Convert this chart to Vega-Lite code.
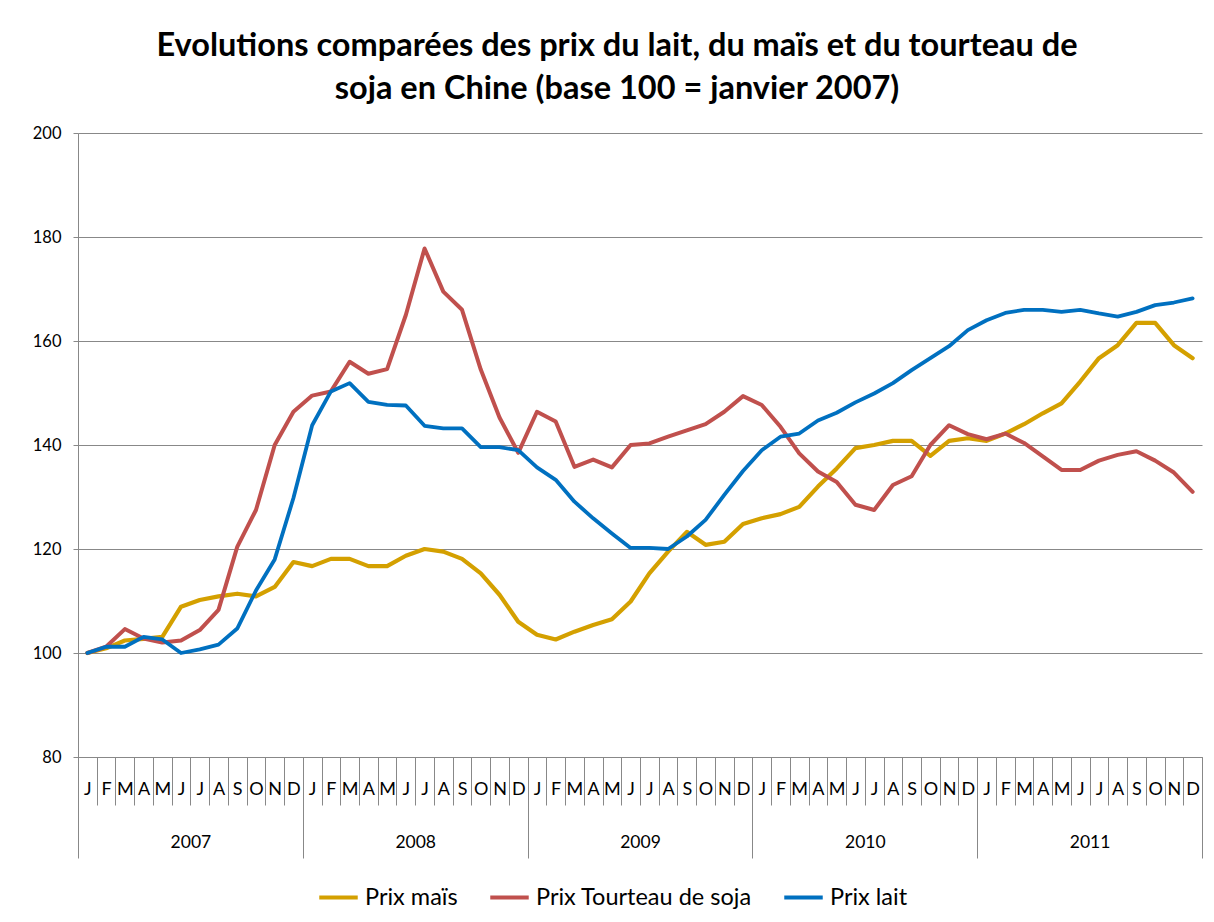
{
  "$schema": "https://vega.github.io/schema/vega-lite/v6.json",
  "width": 1124,
  "height": 624,
  "autosize": "none",
  "padding": {"left": 78, "top": 133, "right": 12, "bottom": 165},
  "background": "white",
  "title": {
    "text": ["Evolutions comparées des prix du lait, du maïs et du tourteau de", "soja en Chine (base 100 = janvier 2007)"],
    "font": "Lato",
    "fontSize": 32.5,
    "fontWeight": "bold",
    "color": "black",
    "lineHeight": 43,
    "anchor": "middle",
    "dx": -23,
    "offset": 20
  },
  "data": {
    "values": [
      {"i": 0, "an": 2007, "Prix maïs": 100, "Prix Tourteau de soja": 100, "Prix lait": 100},
      {"i": 1, "an": 2007, "Prix maïs": 100.9, "Prix Tourteau de soja": 101.2, "Prix lait": 101.2},
      {"i": 2, "an": 2007, "Prix maïs": 102.4, "Prix Tourteau de soja": 104.6, "Prix lait": 101.2},
      {"i": 3, "an": 2007, "Prix maïs": 102.7, "Prix Tourteau de soja": 102.8, "Prix lait": 103.1},
      {"i": 4, "an": 2007, "Prix maïs": 103.1, "Prix Tourteau de soja": 102.0, "Prix lait": 102.6},
      {"i": 5, "an": 2007, "Prix maïs": 108.9, "Prix Tourteau de soja": 102.4, "Prix lait": 100.0},
      {"i": 6, "an": 2007, "Prix maïs": 110.2, "Prix Tourteau de soja": 104.4, "Prix lait": 100.7},
      {"i": 7, "an": 2007, "Prix maïs": 110.9, "Prix Tourteau de soja": 108.3, "Prix lait": 101.6},
      {"i": 8, "an": 2007, "Prix maïs": 111.4, "Prix Tourteau de soja": 120.4, "Prix lait": 104.7},
      {"i": 9, "an": 2007, "Prix maïs": 110.9, "Prix Tourteau de soja": 127.5, "Prix lait": 112.0},
      {"i": 10, "an": 2007, "Prix maïs": 112.7, "Prix Tourteau de soja": 140.0, "Prix lait": 118.0},
      {"i": 11, "an": 2007, "Prix maïs": 117.5, "Prix Tourteau de soja": 146.4, "Prix lait": 129.8},
      {"i": 12, "an": 2008, "Prix maïs": 116.7, "Prix Tourteau de soja": 149.5, "Prix lait": 143.8},
      {"i": 13, "an": 2008, "Prix maïs": 118.1, "Prix Tourteau de soja": 150.3, "Prix lait": 150.3},
      {"i": 14, "an": 2008, "Prix maïs": 118.1, "Prix Tourteau de soja": 156.0, "Prix lait": 151.9},
      {"i": 15, "an": 2008, "Prix maïs": 116.7, "Prix Tourteau de soja": 153.7, "Prix lait": 148.3},
      {"i": 16, "an": 2008, "Prix maïs": 116.7, "Prix Tourteau de soja": 154.6, "Prix lait": 147.7},
      {"i": 17, "an": 2008, "Prix maïs": 118.7, "Prix Tourteau de soja": 165.0, "Prix lait": 147.6},
      {"i": 18, "an": 2008, "Prix maïs": 120.0, "Prix Tourteau de soja": 177.8, "Prix lait": 143.7},
      {"i": 19, "an": 2008, "Prix maïs": 119.5, "Prix Tourteau de soja": 169.5, "Prix lait": 143.2},
      {"i": 20, "an": 2008, "Prix maïs": 118.1, "Prix Tourteau de soja": 166.0, "Prix lait": 143.2},
      {"i": 21, "an": 2008, "Prix maïs": 115.3, "Prix Tourteau de soja": 154.5, "Prix lait": 139.6},
      {"i": 22, "an": 2008, "Prix maïs": 111.2, "Prix Tourteau de soja": 145.3, "Prix lait": 139.6},
      {"i": 23, "an": 2008, "Prix maïs": 106.0, "Prix Tourteau de soja": 138.5, "Prix lait": 139.0},
      {"i": 24, "an": 2009, "Prix maïs": 103.5, "Prix Tourteau de soja": 146.4, "Prix lait": 135.7},
      {"i": 25, "an": 2009, "Prix maïs": 102.6, "Prix Tourteau de soja": 144.5, "Prix lait": 133.3},
      {"i": 26, "an": 2009, "Prix maïs": 104.1, "Prix Tourteau de soja": 135.8, "Prix lait": 129.1},
      {"i": 27, "an": 2009, "Prix maïs": 105.4, "Prix Tourteau de soja": 137.2, "Prix lait": 125.9},
      {"i": 28, "an": 2009, "Prix maïs": 106.5, "Prix Tourteau de soja": 135.7, "Prix lait": 123.0},
      {"i": 29, "an": 2009, "Prix maïs": 109.9, "Prix Tourteau de soja": 140.0, "Prix lait": 120.2},
      {"i": 30, "an": 2009, "Prix maïs": 115.3, "Prix Tourteau de soja": 140.3, "Prix lait": 120.2},
      {"i": 31, "an": 2009, "Prix maïs": 119.5, "Prix Tourteau de soja": 141.6, "Prix lait": 120.0},
      {"i": 32, "an": 2009, "Prix maïs": 123.3, "Prix Tourteau de soja": 142.8, "Prix lait": 122.4},
      {"i": 33, "an": 2009, "Prix maïs": 120.8, "Prix Tourteau de soja": 144.0, "Prix lait": 125.6},
      {"i": 34, "an": 2009, "Prix maïs": 121.4, "Prix Tourteau de soja": 146.4, "Prix lait": 130.4},
      {"i": 35, "an": 2009, "Prix maïs": 124.8, "Prix Tourteau de soja": 149.4, "Prix lait": 135.0},
      {"i": 36, "an": 2010, "Prix maïs": 125.9, "Prix Tourteau de soja": 147.7, "Prix lait": 139.0},
      {"i": 37, "an": 2010, "Prix maïs": 126.7, "Prix Tourteau de soja": 143.5, "Prix lait": 141.6},
      {"i": 38, "an": 2010, "Prix maïs": 128.1, "Prix Tourteau de soja": 138.4, "Prix lait": 142.2},
      {"i": 39, "an": 2010, "Prix maïs": 132.0, "Prix Tourteau de soja": 134.9, "Prix lait": 144.7},
      {"i": 40, "an": 2010, "Prix maïs": 135.5, "Prix Tourteau de soja": 132.9, "Prix lait": 146.2},
      {"i": 41, "an": 2010, "Prix maïs": 139.4, "Prix Tourteau de soja": 128.5, "Prix lait": 148.2},
      {"i": 42, "an": 2010, "Prix maïs": 140.0, "Prix Tourteau de soja": 127.5, "Prix lait": 149.9},
      {"i": 43, "an": 2010, "Prix maïs": 140.8, "Prix Tourteau de soja": 132.3, "Prix lait": 151.9},
      {"i": 44, "an": 2010, "Prix maïs": 140.8, "Prix Tourteau de soja": 134.0, "Prix lait": 154.4},
      {"i": 45, "an": 2010, "Prix maïs": 137.9, "Prix Tourteau de soja": 140.0, "Prix lait": 156.7},
      {"i": 46, "an": 2010, "Prix maïs": 140.8, "Prix Tourteau de soja": 143.8, "Prix lait": 159.0},
      {"i": 47, "an": 2010, "Prix maïs": 141.3, "Prix Tourteau de soja": 142.1, "Prix lait": 162.1},
      {"i": 48, "an": 2011, "Prix maïs": 140.8, "Prix Tourteau de soja": 141.1, "Prix lait": 164.0},
      {"i": 49, "an": 2011, "Prix maïs": 142.2, "Prix Tourteau de soja": 142.2, "Prix lait": 165.4},
      {"i": 50, "an": 2011, "Prix maïs": 144.0, "Prix Tourteau de soja": 140.4, "Prix lait": 166.0},
      {"i": 51, "an": 2011, "Prix maïs": 146.1, "Prix Tourteau de soja": 137.8, "Prix lait": 166.0},
      {"i": 52, "an": 2011, "Prix maïs": 148.0, "Prix Tourteau de soja": 135.2, "Prix lait": 165.6},
      {"i": 53, "an": 2011, "Prix maïs": 152.2, "Prix Tourteau de soja": 135.2, "Prix lait": 166.0},
      {"i": 54, "an": 2011, "Prix maïs": 156.7, "Prix Tourteau de soja": 137.0, "Prix lait": 165.3},
      {"i": 55, "an": 2011, "Prix maïs": 159.2, "Prix Tourteau de soja": 138.1, "Prix lait": 164.7},
      {"i": 56, "an": 2011, "Prix maïs": 163.5, "Prix Tourteau de soja": 138.8, "Prix lait": 165.6},
      {"i": 57, "an": 2011, "Prix maïs": 163.5, "Prix Tourteau de soja": 137.0, "Prix lait": 166.9},
      {"i": 58, "an": 2011, "Prix maïs": 159.2, "Prix Tourteau de soja": 134.7, "Prix lait": 167.4},
      {"i": 59, "an": 2011, "Prix maïs": 156.7, "Prix Tourteau de soja": 131.0, "Prix lait": 168.2}
    ]
  },
  "transform": [
    {"fold": ["Prix maïs", "Prix Tourteau de soja", "Prix lait"], "as": ["serie", "valeur"]}
  ],
  "layer": [
    {
      "mark": {"type": "line", "strokeJoin": "round", "strokeCap": "round"},
      "encoding": {
        "x": {
          "field": "i",
          "type": "ordinal",
          "scale": {"type": "band", "paddingInner": 0, "paddingOuter": 0},
          "axis": {
            "title": null,
            "labelExpr": "substring('JFMAMJJASOND', datum.value % 12, datum.value % 12 + 1)",
            "tickBand": "extent",
            "tickSize": 48,
            "tickColor": "#888888",
            "domainColor": "#888888",
            "labelAngle": 0,
            "labelPadding": -25,
            "labelFont": "Lato",
            "labelFontSize": 18,
            "labelColor": "black",
            "labelOverlap": false,
            "labelFlush": false,
            "grid": false
          }
        },
        "y": {
          "field": "valeur",
          "type": "quantitative",
          "scale": {"domain": [80, 200], "nice": false, "zero": false},
          "axis": {
            "title": null,
            "values": [80, 100, 120, 140, 160, 180, 200],
            "grid": true,
            "gridColor": "#888888",
            "domainColor": "#888888",
            "tickColor": "#888888",
            "tickSize": 5,
            "labelFont": "Lato",
            "labelFontSize": 16.5,
            "labelColor": "black",
            "labelPadding": 12
          }
        },
        "color": {
          "field": "serie",
          "type": "nominal",
          "scale": {
            "domain": ["Prix maïs", "Prix Tourteau de soja", "Prix lait"],
            "range": ["#D4A000", "#C0504D", "#0070C0"]
          },
          "legend": {
            "title": null,
            "orient": "none",
            "direction": "horizontal",
            "legendX": 239,
            "legendY": 743,
            "symbolType": "stroke",
            "symbolSize": 1480,
            "symbolStrokeWidth": 4,
            "labelFont": "Lato",
            "labelFontSize": 23.5,
            "labelColor": "black",
            "labelOffset": 5,
            "labelLimit": 400,
            "columnPadding": 24
          }
        },
        "strokeWidth": {
          "field": "serie",
          "type": "nominal",
          "scale": {
            "domain": ["Prix maïs", "Prix Tourteau de soja", "Prix lait"],
            "range": [4.2, 3.8, 6]
          },
          "legend": null
        }
      }
    },
    {
      "mark": {"type": "point", "opacity": 0},
      "encoding": {
        "x": {
          "field": "an",
          "type": "ordinal",
          "scale": {"type": "band", "paddingInner": 0, "paddingOuter": 0},
          "axis": {
            "orient": "bottom",
            "title": null,
            "tickBand": "extent",
            "tickSize": 101,
            "tickColor": "#888888",
            "domain": false,
            "labelAngle": 0,
            "labelPadding": -25,
            "labelFont": "Lato",
            "labelFontSize": 17.5,
            "labelColor": "black",
            "labelFlush": false,
            "grid": false
          }
        },
        "y": {"field": "valeur", "type": "quantitative"}
      }
    }
  ],
  "resolve": {"scale": {"x": "independent"}, "axis": {"x": "independent"}},
  "config": {"view": {"stroke": null}, "font": "Lato"}
}
